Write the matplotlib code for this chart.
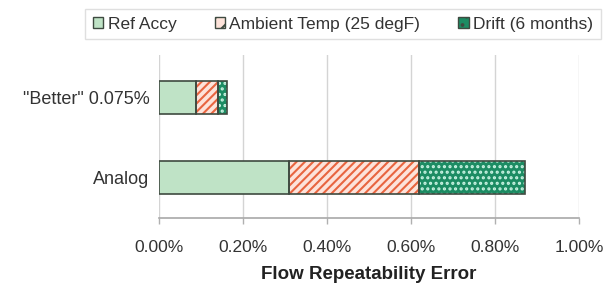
import matplotlib
matplotlib.use("Agg")
import matplotlib.pyplot as plt
from matplotlib.patches import Patch
import numpy as np

plt.rcParams['font.family'] = ['Liberation Sans', 'DejaVu Sans']
plt.rcParams['hatch.linewidth'] = 1.5

categories = ['Analog', '"Better" 0.075%']
ref_accy = [0.31, 0.088]
ambient_temp = [0.31, 0.052]
drift = [0.252, 0.021]
series_names = ['Ref Accy', 'Ambient Temp (25 degF)', 'Drift (6 months)']
xticks = [0.0, 0.2, 0.4, 0.6, 0.8, 1.0]

fig = plt.figure(figsize=(6.14, 2.87), dpi=100)
ax = fig.add_axes([159/614, 69/287, 420/614, 163/287])

edge = '#3e4a40'
styles = [
    dict(face='#bfe3c6', hatch=None, hcol=None),
    dict(face='#fde3da', hatch='////', hcol='#e8653f'),
    dict(face='#1c8c63', hatch='...', hcol='#c9f3e2'),
]
y = np.arange(len(categories))
h = 0.41
left = np.zeros(len(categories))
for vals, st in zip([ref_accy, ambient_temp, drift], styles):
    vals = np.array(vals)
    if st['hatch']:
        ax.barh(y, vals, left=left, height=h, color=st['face'],
                edgecolor=st['hcol'], hatch=st['hatch'], linewidth=0, zorder=3)
    else:
        ax.barh(y, vals, left=left, height=h, color=st['face'], linewidth=0, zorder=3)
    ax.barh(y, vals, left=left, height=h, fill=False, edgecolor=edge,
            linewidth=1.2, zorder=4)
    left += vals

ax.set_xlim(0, 1.0)
ax.set_ylim(-0.5, 1.53)
ax.set_xticks(xticks)
ax.set_xticklabels([f'{v:.2f}%' for v in xticks])
ax.set_yticks(y)
ax.set_yticklabels(categories)
ax.tick_params(axis='y', length=0, pad=7, labelsize=13, labelcolor='#333333')
ax.tick_params(axis='x', length=4, width=1, color='#b0b0b0', pad=12,
               labelsize=12.5, labelcolor='#333333')
ax.grid(axis='x', color='#d4d4d4', linewidth=1, zorder=0)
for s in ['top', 'right', 'left']:
    ax.spines[s].set_visible(False)
ax.spines['bottom'].set_color('#a8a8a8')
ax.spines['bottom'].set_linewidth(1.2)
ax.set_xlabel('Flow Repeatability Error', fontsize=13.5, fontweight='bold',
              color='#222222', labelpad=8)

handles = []
for name, st in zip(series_names, styles):
    if st['hatch']:
        handles.append(Patch(facecolor=st['face'], edgecolor=edge, hatch=st['hatch'][:2],
                             linewidth=1.0, label=name))
    else:
        handles.append(Patch(facecolor=st['face'], edgecolor=edge, linewidth=1.0, label=name))
leg = fig.legend(handles=handles, loc='center', ncol=3,
                 bbox_to_anchor=(343/614, 1 - 24/287), fontsize=12.5,
                 frameon=True, fancybox=False, edgecolor='#d8d8d8',
                 handlelength=0.6, handleheight=0.6, handletextpad=0.25,
                 columnspacing=2.2, borderpad=0.45)
leg.get_frame().set_linewidth(1.0)
for t in leg.get_texts():
    t.set_color('#333333')

fig.savefig('out.png', dpi=100)
